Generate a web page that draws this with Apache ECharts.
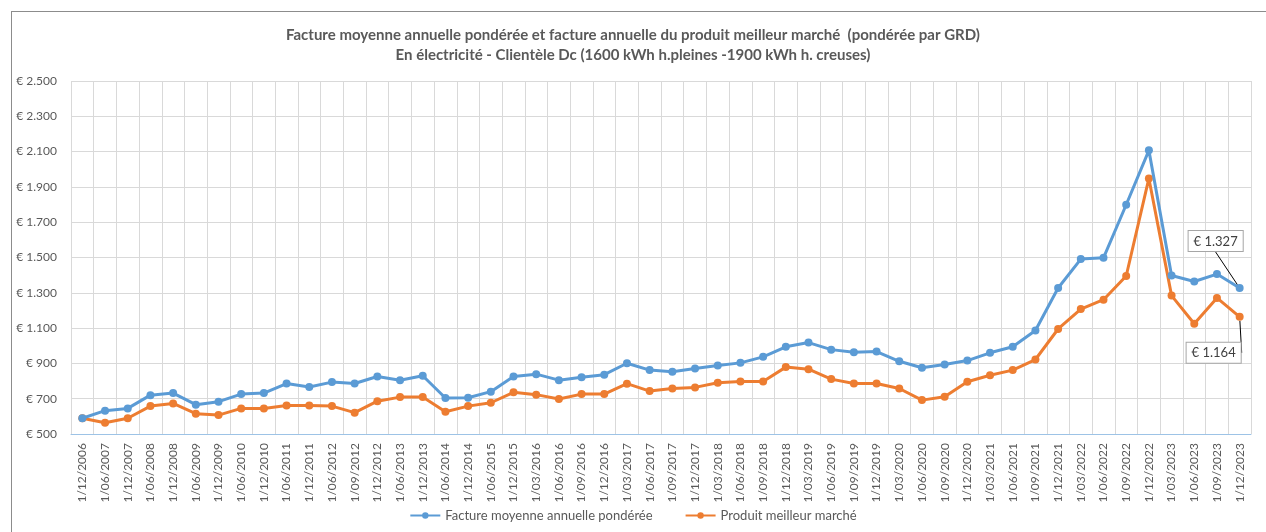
<!DOCTYPE html>
<html>
<head>
<meta charset="utf-8">
<script src="https://cdn.jsdelivr.net/npm/echarts@6/dist/echarts.min.js"></script>
<style>
    html, body { margin: 0; padding: 0; background: #fff; }
    #frame { position: absolute; left: 11px; top: 11px; width: 1400px; height: 700px; border: 1px solid #8c8c8c; box-sizing: border-box; }
    #chart { position: absolute; left: 0; top: 0; width: 1266px; height: 532px; }
</style>
</head>
<body>
<div id="frame"></div>
<div id="chart"></div>
<script>
var categories = [
    '1/12/2006', '1/06/2007', '1/12/2007', '1/06/2008', '1/12/2008', '1/06/2009', '1/12/2009',
    '1/06/2010', '1/12/2010', '1/06/2011', '1/12/2011', '1/06/2012', '1/09/2012', '1/12/2012',
    '1/06/2013', '1/12/2013', '1/06/2014', '1/12/2014', '1/06/2015', '1/12/2015', '1/03/2016',
    '1/06/2016', '1/09/2016', '1/12/2016', '1/03/2017', '1/06/2017', '1/09/2017', '1/12/2017',
    '1/03/2018', '1/06/2018', '1/09/2018', '1/12/2018', '1/03/2019', '1/06/2019', '1/09/2019',
    '1/12/2019', '1/03/2020', '1/06/2020', '1/09/2020', '1/12/2020', '1/03/2021', '1/06/2021',
    '1/09/2021', '1/12/2021', '1/03/2022', '1/06/2022', '1/09/2022', '1/12/2022', '1/03/2023',
    '1/06/2023', '1/09/2023', '1/12/2023'
];

// facture moyenne annuelle pondérée
var factureMoyenne = [
    589, 632, 645, 720, 732, 666, 683, 726, 732, 786, 766, 794, 786, 826, 805, 830, 704,
    705, 740, 826, 839, 805, 822, 836, 901, 862, 853, 871, 888, 903, 937, 994, 1018, 978,
    963, 967, 912, 875, 894, 916, 960, 994, 1086, 1327, 1491, 1498, 1799, 2107, 1398, 1364,
    1406, 1327
];

// produit meilleur marché
var produitMeilleur = [
    589, 564, 589, 658, 673, 615, 607, 645, 645, 662, 662, 658, 621, 686, 709, 709, 626,
    658, 677, 736, 723, 698, 726, 726, 785, 743, 758, 764, 790, 798, 798, 879, 867, 811,
    786, 786, 758, 692, 711, 796, 833, 862, 922, 1095, 1208, 1261, 1395, 1948, 1284, 1125,
    1271, 1164
];

var yTicks = { min: 500, max: 2500, interval: 200 };

var fontFam = 'Lato, "Noto Sans", sans-serif';
var txtColor = '#595959';

function euro(v) {
    var s = String(Math.round(v));
    return '€ ' + s.replace(/\B(?=(\d{3})+(?!\d))/g, '.');
}

function withEndLabel(arr, pos) {
    return arr.map(function (v, i) {
        if (i !== arr.length - 1) return v;
        return {
            value: v,
            label: {
                show: true,
                position: pos,
                formatter: function (p) { return euro(p.value); },
                fontFamily: fontFam,
                fontSize: 13,
                color: '#404040',
                backgroundColor: '#fff',
                borderColor: '#a6a6a6',
                borderWidth: 1,
                padding: [4, 5, 3, 5]
            }
        };
    });
}

var myChart = echarts.init(document.getElementById('chart'));
myChart.setOption({
    backgroundColor: 'transparent',
    animation: false,
    title: {
        text: 'Facture moyenne annuelle pondérée et facture annuelle du produit meilleur marché  (pondérée par GRD)\nEn électricité - Clientèle Dc (1600 kWh h.pleines -1900 kWh h. creuses)',
        left: 'center',
        top: 20,
        textStyle: {
            fontFamily: fontFam,
            fontSize: 15,
            fontWeight: 'bold',
            color: txtColor,
            lineHeight: 20
        }
    },
    legend: {
        bottom: 5,
        left: 'center',
        itemGap: 32,
        itemWidth: 30,
        itemHeight: 8,
        textStyle: { fontFamily: fontFam, fontSize: 13, color: txtColor },
        data: ['Facture moyenne annuelle pondérée', 'Produit meilleur marché']
    },
    grid: {
        left: 71,
        right: 15,
        top: 81,
        bottom: 98,
        containLabel: false
    },
    xAxis: {
        type: 'category',
        data: categories,
        boundaryGap: true,
        axisLine: { lineStyle: { color: '#9dc3e6', width: 1 } },
        axisTick: { show: false },
        splitLine: { show: true, interval: 0, lineStyle: { color: '#d9d9d9', width: 1 } },
        axisLabel: {
            interval: 0,
            rotate: 90,
            margin: 9,
            fontFamily: fontFam,
            fontSize: 12,
            color: txtColor
        }
    },
    yAxis: {
        type: 'value',
        min: yTicks.min,
        max: yTicks.max,
        interval: yTicks.interval,
        axisLine: { show: false },
        axisTick: { show: false },
        splitLine: { lineStyle: { color: '#d9d9d9', width: 1 } },
        axisLabel: {
            margin: 14,
            fontFamily: fontFam,
            fontSize: 12,
            color: txtColor,
            formatter: euro
        }
    },
    series: [
        {
            name: 'Facture moyenne annuelle pondérée',
            type: 'line',
            data: withEndLabel(factureMoyenne, 'top'),
            color: '#5b9bd5',
            symbol: 'circle',
            symbolSize: 8,
            lineStyle: { width: 3 },
            labelLine: { show: true, lineStyle: { color: '#000', width: 1 } },
            labelLayout: function (params) {
                if (params.dataIndex === factureMoyenne.length - 1) {
                    return { dx: -24, dy: -28 };
                }
            },
            z: 3
        },
        {
            name: 'Produit meilleur marché',
            type: 'line',
            data: withEndLabel(produitMeilleur, 'bottom'),
            color: '#ed7d31',
            symbol: 'circle',
            symbolSize: 8,
            lineStyle: { width: 3 },
            labelLine: { show: true, lineStyle: { color: '#000', width: 1 } },
            labelLayout: function (params) {
                if (params.dataIndex === produitMeilleur.length - 1) {
                    return { dx: -26, dy: 17 };
                }
            },
            z: 2
        }
    ]
});
</script>
</body>
</html>
